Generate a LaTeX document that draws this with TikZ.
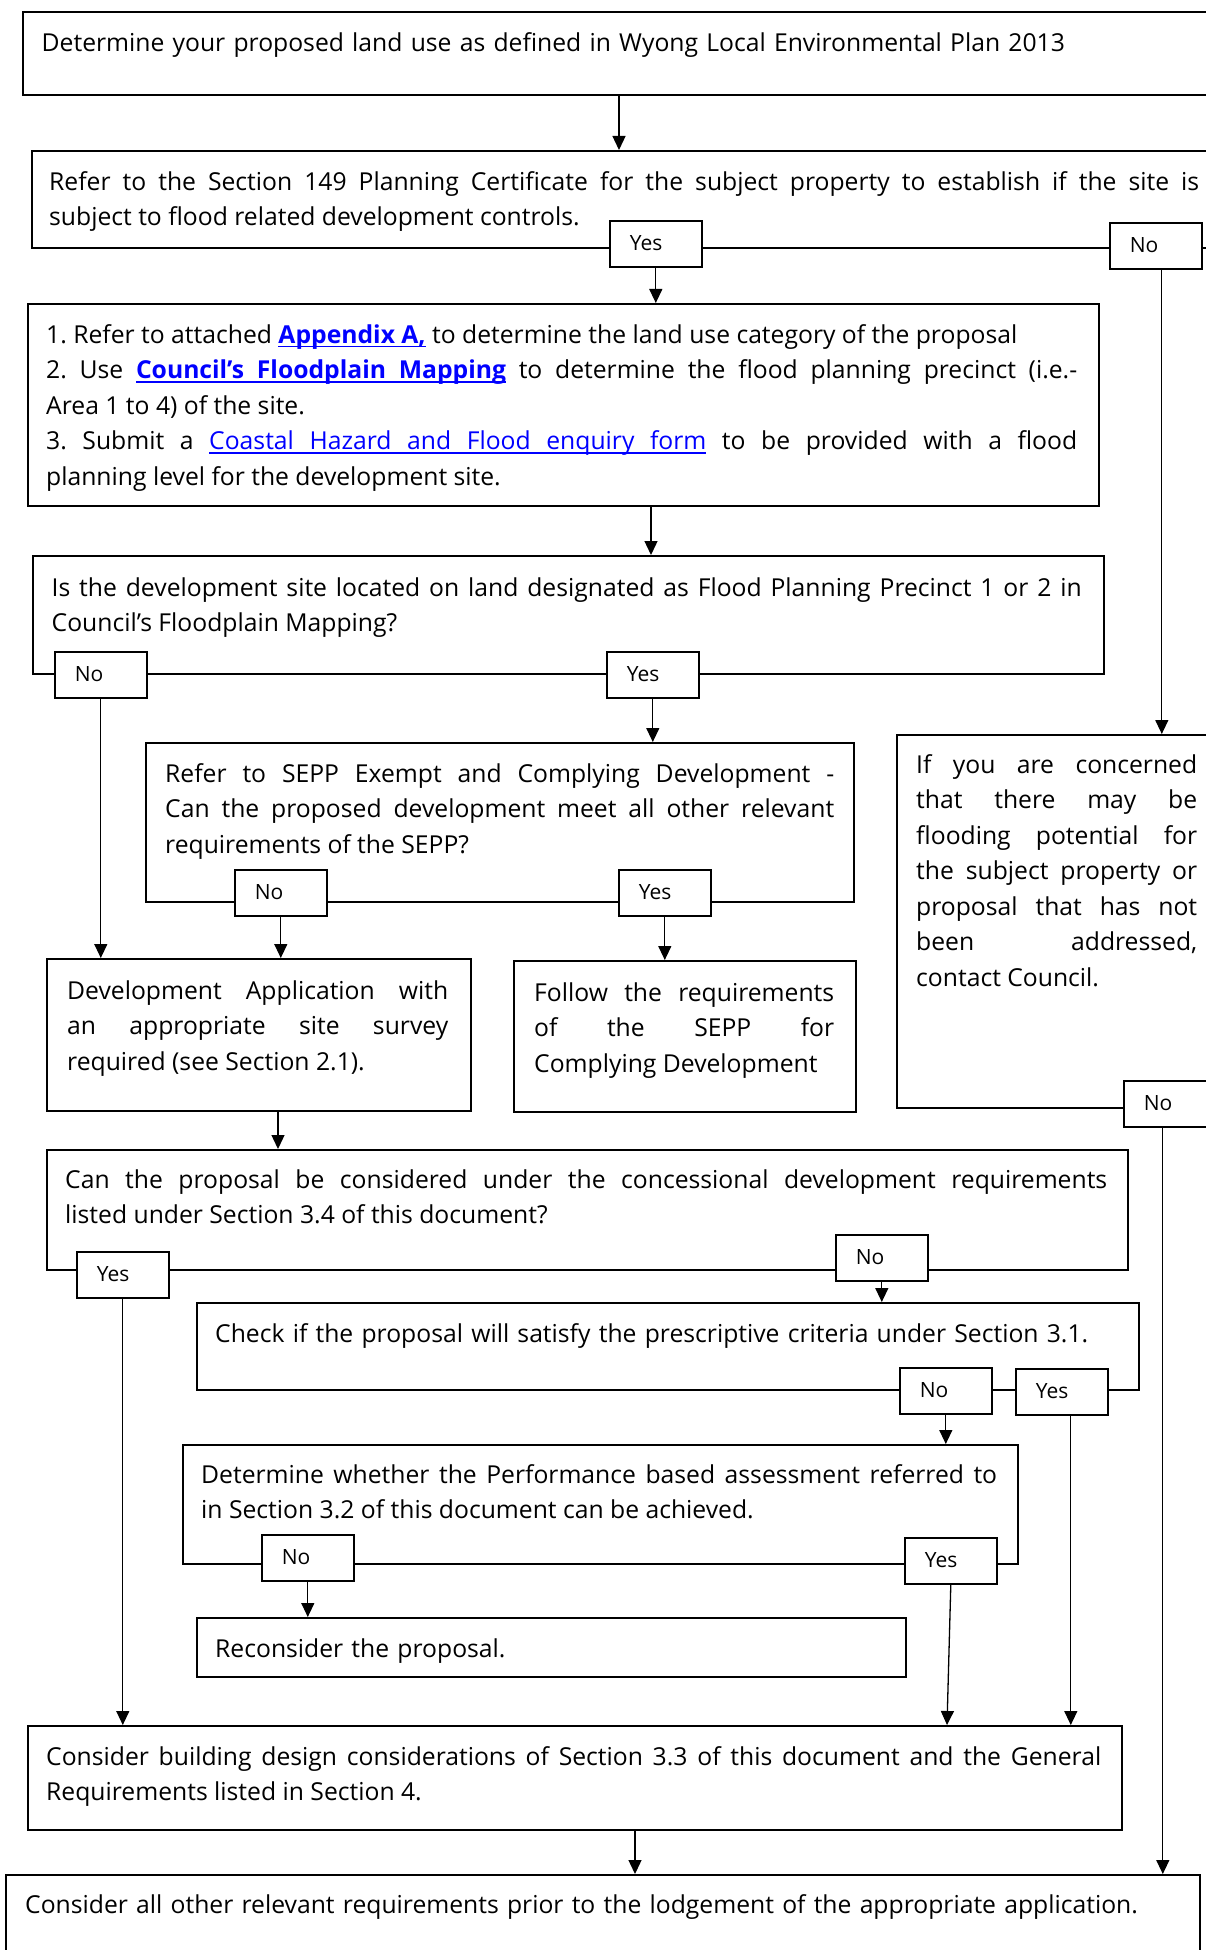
\documentclass[tikz,border=0pt]{standalone}
\usepackage{fontspec}
\setmainfont{Open Sans}
\usetikzlibrary{arrows.meta,positioning,calc}
\definecolor{linkblue}{HTML}{0000FF}
% underlined link words, with stretchable underlined spaces
\newcommand{\ulw}[1]{\setbox0\hbox{#1}\rlap{\vrule height -2.6pt depth 4.4pt width \wd0}\box0}
\newcommand{\ulsp}{\leaders\hrule height -2.6pt depth 4.4pt\hskip\fontdimen2\font plus\fontdimen3\font minus\fontdimen4\font}
\newcommand{\mainsize}{\fontsize{24.7}{35.5}\selectfont}
\newcommand{\tagsize}{\fontsize{21}{24}\selectfont}
\frenchspacing

\begin{document}
\begin{tikzpicture}[
    x=1pt, y=-1pt,
    >={Triangle[length=14pt,width=13pt]},
    flowbox/.style={draw, line width=2pt, anchor=north west, inner sep=0pt},
    flowtext/.style={anchor=north west, align=justify, inner sep=0pt, font=\mainsize,
        execute at begin node={\hyphenpenalty=10000\tolerance=10000\strut}},
    tag/.style={draw, line width=1.6pt, fill=white, anchor=north west, font=\tagsize,
        text width=52pt, inner xsep=20pt, inner ysep=0pt, align=left, minimum height=46pt,
        text height=17pt, text depth=3pt},
    link/.style={line width=1.3pt, ->}
]
\useasboundingbox (0,0) rectangle (1205,1950);

% boxes
\node[flowbox, minimum width=1210, minimum height=83] (b1) at (21.5,11) {};
\node[flowbox, minimum width=1187, minimum height=97] (b2) at (31,150) {};
\node[flowbox, minimum width=1071, minimum height=202] (b3) at (27,303) {};
\node[flowbox, minimum width=1071.5, minimum height=118] (b4) at (31.5,555) {};
\node[flowbox, minimum width=708.5, minimum height=159] (b5) at (144.5,742) {};
\node[flowbox, minimum width=424, minimum height=152] (b6) at (46,958) {};
\node[flowbox, minimum width=342, minimum height=151] (b7) at (513,960) {};
\node[flowbox, minimum width=330, minimum height=373] (b8) at (896,734) {};
\node[flowbox, minimum width=1081, minimum height=120] (b9) at (46,1149) {};
\node[flowbox, minimum width=942, minimum height=87] (b10) at (196,1302) {};
\node[flowbox, minimum width=835, minimum height=119] (b11) at (182,1444) {};
\node[flowbox, minimum width=709, minimum height=59] (b12) at (196,1617) {};
\node[flowbox, minimum width=1094, minimum height=104] (b13) at (27,1725) {};
\node[flowbox, minimum width=1194, minimum height=110] (b14) at (5,1874) {};

% texts
\node[flowtext, align=left, text width=1150] (b1t) at ([xshift=20pt, yshift=-15pt]b1.north west)
    {Determine your proposed land use as defined in Wyong Local Environmental Plan 2013};
\node[flowtext, text width=1150] (b2t) at ([xshift=18pt, yshift=-15pt]b2.north west)
    {Refer to the Section 149 Planning Certificate for the subject property to establish if the site is\linebreak
     subject to flood related development controls.};
\node[flowtext, text width=1031] (b3t) at ([xshift=19pt, yshift=-15pt]b3.north west)
    {1. Refer to attached {\bfseries\color{linkblue}\ulw{Appendix}\ulsp\ulw{A,}} to determine the land use category of the proposal\par
     2. Use {\bfseries\color{linkblue}\ulw{Council's}\ulsp\ulw{Floodplain}\ulsp\ulw{Mapping}} to determine the flood planning precinct (i.e.-\linebreak
     Area 1 to 4) of the site.\par
     3. Submit a {\color{linkblue}\ulw{Coastal}\ulsp\ulw{Hazard}\ulsp\ulw{and}\ulsp\ulw{Flood}\ulsp\ulw{enquiry}\ulsp\ulw{form}} to be provided with a flood\linebreak
     planning level for the development site.};
\node[flowtext, text width=1030] (b4t) at ([xshift=20pt, yshift=-16pt]b4.north west)
    {Is the development site located on land designated as Flood Planning Precinct 1 or 2 in\linebreak
     Council's Floodplain Mapping?};
\node[flowtext, text width=669] (b5t) at ([xshift=20.5pt, yshift=-15pt]b5.north west)
    {Refer to SEPP Exempt and Complying Development -\linebreak
     Can the proposed development meet all other relevant\linebreak
     requirements of the SEPP?};
\node[flowtext, text width=381] (b6t) at ([xshift=21pt, yshift=-16pt]b6.north west)
    {Development Application with\linebreak
     an appropriate site survey\linebreak
     required (see Section 2.1).};
\node[flowtext, text width=300] (b7t) at ([xshift=21pt, yshift=-16pt]b7.north west)
    {Follow the requirements\linebreak
     of the SEPP for\linebreak
     Complying Development};
\node[flowtext, text width=281] (b8t) at ([xshift=20pt, yshift=-14pt]b8.north west)
    {If you are concerned\linebreak
     that there may be\linebreak
     flooding potential for\linebreak
     the subject property or\linebreak
     proposal that has not\linebreak
     been addressed,\linebreak
     contact Council.};
\node[flowtext, text width=1042] (b9t) at ([xshift=19pt, yshift=-14pt]b9.north west)
    {Can the proposal be considered under the concessional development requirements\linebreak
     listed under Section 3.4 of this document?};
\node[flowtext, align=left, text width=902] (b10t) at ([xshift=19pt, yshift=-15pt]b10.north west)
    {Check if the proposal will satisfy the prescriptive criteria under Section 3.1.};
\node[flowtext, text width=796] (b11t) at ([xshift=19pt, yshift=-14pt]b11.north west)
    {Determine whether the Performance based assessment referred to\linebreak
     in Section 3.2 of this document can be achieved.};
\node[flowtext, align=left, text width=669] (b12t) at ([xshift=19pt, yshift=-15pt]b12.north west)
    {Reconsider the proposal.};
\node[flowtext, text width=1055] (b13t) at ([xshift=19pt, yshift=-15pt]b13.north west)
    {Consider building design considerations of Section 3.3 of this document and the General\linebreak
     Requirements listed in Section 4.};
\node[flowtext, align=left, text width=1154] (b14t) at ([xshift=20pt, yshift=-14pt]b14.north west)
    {Consider all other relevant requirements prior to the lodgement of the appropriate application.};

% yes / no tags
\node[tag] (b2yes) at (609,220) {Yes};
\node[tag] (b2no) at (1109,222) {No};
\node[tag] (b4no) at (54,651) {No};
\node[tag] (b4yes) at (606,651) {Yes};
\node[tag] (b5no) at (234,869) {No};
\node[tag] (b5yes) at (618,869) {Yes};
\node[tag] (b8no) at (1123,1080) {No};
\node[tag] (b9yes) at (76,1251) {Yes};
\node[tag] (b9no) at (835,1234) {No};
\node[tag] (b10no) at (899,1367) {No};
\node[tag] (b10yes) at (1015,1368) {Yes};
\node[tag] (b11no) at (261,1534) {No};
\node[tag] (b11yes) at (904,1537) {Yes};

% connectors
\draw[link] ([xshift=597.5pt]b1.south west) -- ([xshift=588pt]b2.north west);
\draw[link] (b2yes.south) -- (b2yes.south |- b3.north);
\draw[link] ($(b2no.south)+(6,0)$) -- ($(b2no.south |- b8.north)+(6,0)$);
\draw[link] ([xshift=624pt]b3.south west) -- ([xshift=619.5pt]b4.north west);
\draw[link] (b4no.south) -- (b4no.south |- b6.north);
\draw[link] (b4yes.south) -- (b4yes.south |- b5.north);
\draw[link] (b5no.south) -- (b5no.south |- b6.north);
\draw[link] (b5yes.south) -- (b5yes.south |- b7.north);
\draw[link] ([xshift=232pt]b6.south west) -- ([xshift=232pt]b9.north west);
\draw[link] ($(b8no.south)+(-7,0)$) -- ($(b8no.south |- b14.north)+(-7,0)$);
\draw[link] (b9yes.south) -- (b9yes.south |- b13.north);
\draw[link] (b9no.south) -- (b9no.south |- b10.north);
\draw[link] (b10no.south) -- (b10no.south |- b11.north);
\draw[link] ($(b10yes.south)+(9,0)$) -- ($(b10yes.south |- b13.north)+(9,0)$);
\draw[link] (b11no.south) -- (b11no.south |- b12.north);
\draw[link] (b11yes.south) -- ([xshift=920pt]b13.north west);
\draw[link] ([xshift=608pt]b13.south west) -- ([xshift=630pt]b14.north west);
\end{tikzpicture}
\end{document}
